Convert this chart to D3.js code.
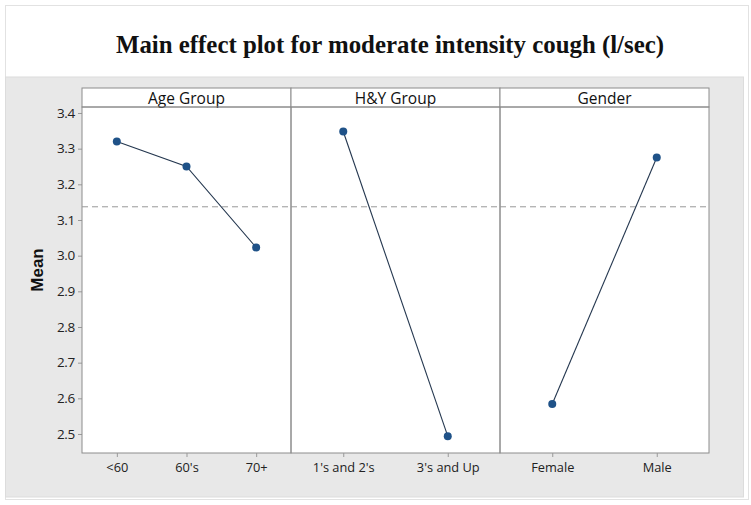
<!DOCTYPE html>
<html><head><meta charset="utf-8">
<script src="https://cdn.jsdelivr.net/npm/d3@7"></script>
<style>body{margin:0;background:#fff}</style>
</head><body>
<svg id="c" width="751" height="505"></svg>
<script>
const title = "Main effect plot for moderate intensity cough (l/sec)";
const yLabel = "Mean";
const panels = ["Age Group", "H&Y Group", "Gender"];
const ageCats = ["<60", "60's", "70+"];
const ageVals = [3.320, 3.250, 3.023];
const hyCats = ["1's and 2's", "3's and Up"];
const hyVals = [3.348, 2.494];
const genderCats = ["Female", "Male"];
const genderVals = [2.584, 3.275];
const overallMean = 3.137;
const yTicks = [2.5, 2.6, 2.7, 2.8, 2.9, 3.0, 3.1, 3.2, 3.3, 3.4];

const groups = [
  {name: panels[0], cats: ageCats, vals: ageVals},
  {name: panels[1], cats: hyCats, vals: hyVals},
  {name: panels[2], cats: genderCats, vals: genderVals}
];

const svg = d3.select("#c");
const font = "'Open Sans', 'Noto Sans', sans-serif";

// outer frame
svg.append("rect").attr("x", 5.5).attr("y", 5.5).attr("width", 743).attr("height", 494)
  .attr("fill", "#fff").attr("stroke", "#e2e2e2");
svg.append("rect").attr("x", 5.5).attr("y", 77).attr("width", 738).attr("height", 420)
  .attr("fill", "#e8e8e8").attr("stroke", "#dcdcdc");

svg.append("text").attr("x", 390).attr("y", 53).attr("text-anchor", "middle")
  .attr("font-family", "'Liberation Serif', 'Times New Roman', serif")
  .attr("font-weight", "bold").attr("font-size", 25)
  .attr("textLength", 548).attr("lengthAdjust", "spacingAndGlyphs")
  .attr("fill", "#111").text(title);

const pL = 82, pR = 709, pT = 107, pB = 453, stripTop = 88;
const y = d3.scaleLinear().domain([2.4467, 3.4168]).range([pB, pT]);
const px = d3.scaleBand().domain(panels).range([pL, pR]);

// plot background
svg.append("rect").attr("x", pL).attr("y", pT).attr("width", pR - pL).attr("height", pB - pT)
  .attr("fill", "#fff");

// y axis
const yAxis = svg.append("g").attr("transform", `translate(${pL},0)`)
  .call(d3.axisLeft(y).tickValues(yTicks).tickFormat(d3.format(".1f")).tickSize(4).tickPadding(3));
yAxis.select(".domain").remove();
yAxis.selectAll("line").attr("stroke", "#999");
yAxis.selectAll("text").attr("font-family", font).attr("font-size", 13.5).attr("fill", "#222")
  .attr("letter-spacing", "-0.3");

svg.append("text").attr("transform", "translate(43,270) rotate(-90)").attr("text-anchor", "middle")
  .attr("font-family", "'Liberation Sans', Arial, sans-serif").attr("font-weight", "bold").attr("font-size", 17)
  .attr("fill", "#111").text(yLabel);

groups.forEach(g => {
  const x0 = px(g.name), w = px.bandwidth();
  const x = d3.scalePoint().domain(g.cats).range([x0, x0 + w]).padding(0.5);
  const gp = svg.append("g");
  // strip
  gp.append("rect").attr("x", x0).attr("y", stripTop).attr("width", w).attr("height", pT - stripTop)
    .attr("fill", "#fff").attr("stroke", "#8c8c8c");
  gp.append("text").attr("x", x0 + w / 2).attr("y", pT - 3.5).attr("text-anchor", "middle")
    .attr("font-family", font).attr("font-size", 15.5).attr("fill", "#111").text(g.name);
  // panel border
  gp.append("rect").attr("x", x0).attr("y", pT).attr("width", w).attr("height", pB - pT)
    .attr("fill", "none").attr("stroke", "#8c8c8c");
  // reference line
  gp.append("line").attr("x1", x0).attr("x2", x0 + w).attr("y1", y(overallMean)).attr("y2", y(overallMean))
    .attr("stroke", "#999").attr("stroke-dasharray", "6,4");
  // x axis
  const xa = gp.append("g").attr("transform", `translate(0,${pB})`)
    .call(d3.axisBottom(x).tickSize(4).tickPadding(6));
  xa.select(".domain").remove();
  xa.selectAll("line").attr("stroke", "#999");
  xa.selectAll("text").attr("font-family", font).attr("font-size", 12.8).attr("fill", "#222");
  // line and points
  const data = g.cats.map((c, i) => ({c, v: g.vals[i]}));
  gp.append("path").datum(data)
    .attr("d", d3.line().x(d => x(d.c)).y(d => y(d.v)))
    .attr("fill", "none").attr("stroke", "#24374f").attr("stroke-width", 1.1);
  gp.selectAll("circle").data(data).join("circle")
    .attr("cx", d => x(d.c)).attr("cy", d => y(d.v)).attr("r", 4)
    .attr("fill", "#1f5288");
});
</script>
</body></html>
